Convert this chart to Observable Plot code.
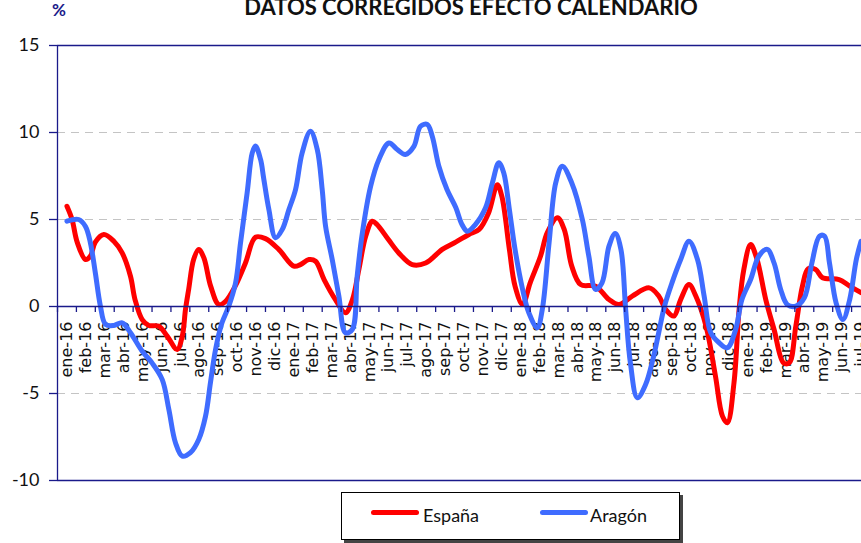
<!DOCTYPE html>
<html><head><meta charset="utf-8">
<script src="https://cdn.jsdelivr.net/npm/d3@7"></script>
<script src="https://cdn.jsdelivr.net/npm/@observablehq/plot@0.6"></script>
<style>
html,body{margin:0;padding:0;background:#fff;overflow:hidden;width:861px;height:543px;}
#wrap{position:relative;width:861px;height:543px;overflow:hidden;background:#fff;}
#chart{position:absolute;left:0;top:0;width:861px;height:543px;overflow:hidden;}
#chart svg{overflow:hidden;}
#title{position:absolute;left:0;width:942px;text-align:center;top:-6px;font-family:Lato;font-weight:bold;font-size:22px;line-height:1.2;color:#111;white-space:nowrap;}
#pct{position:absolute;left:52px;top:0px;font-family:Lato;font-weight:bold;font-size:17px;line-height:1.2;color:#1a1a8a;}
#legend{position:absolute;left:341px;top:492px;width:337px;height:46px;border:1px solid #000;box-shadow:3px 3px 0 #444;background:#fff;font-family:Lato;font-size:18px;}
.sw{position:absolute;height:5px;border-radius:3px;top:17px;}
.lb{position:absolute;top:12px;line-height:1.2;color:#111;white-space:nowrap;}
</style>
</head><body>
<div id="wrap">
  <div id="chart"></div>
  <div id="title"></div>
  <div id="pct">%</div>
  <div id="legend"></div>
</div>
<script>
const titleText = "DATOS CORREGIDOS EFECTO CALENDARIO";
const months = ["ene-16","feb-16","mar-16","abr-16","may-16","jun-16","jul-16","ago-16","sep-16","oct-16","nov-16","dic-16",
"ene-17","feb-17","mar-17","abr-17","may-17","jun-17","jul-17","ago-17","sep-17","oct-17","nov-17","dic-17",
"ene-18","feb-18","mar-18","abr-18","may-18","jun-18","jul-18","ago-18","sep-18","oct-18","nov-18","dic-18",
"ene-19","feb-19","mar-19","abr-19","may-19","jun-19","jul-19"];
const yTicks = [15, 10, 5, 0, -5, -10];
const gridTicks = [10, 5, -5];
const seriesNames = ["España", "Aragón"];
const seriesColors = ["#ff0000", "#3f6cff"];

// España: position in months (0 = ene-16) and value (%)
const espT = [0,0.27,0.54,0.98,1.24,1.5,1.95,2.48,2.92,3.36,3.6,3.98,4.33,4.86,5.3,5.83,6.1,6.27,6.44,6.7,6.97,7.24,7.6,8.03,8.39,8.9,9.44,9.97,10.5,11.2,12.0,12.35,12.8,13.15,13.6,14.2,14.73,15.1,15.44,15.8,16.15,16.4,17.0,17.55,18.26,18.97,19.85,20.56,21.26,21.8,22.3,22.76,23.0,23.4,23.7,24.1,24.5,25.05,25.4,25.94,26.3,26.7,27.17,27.96,28.67,29.2,29.9,30.8,31.3,31.67,32.1,32.46,32.9,33.26,33.8,34.3,34.67,34.93,35.28,35.55,35.8,36.16,36.5,36.96,37.4,37.9,38.2,38.55,38.9,39.2,39.6,39.96,40.84,41.4,42.0];
const espV = [5.76,5.0,3.7,2.7,2.9,3.7,4.14,3.75,3.08,1.74,0.4,-0.75,-1.09,-1.13,-1.7,-2.47,-1.7,-0.17,1.0,2.7,3.28,2.8,1.17,0.11,0.3,1.17,2.5,3.98,3.9,3.28,2.32,2.41,2.7,2.6,1.55,0.4,-0.36,0.4,2.13,4.04,4.9,4.71,3.85,3.08,2.41,2.5,3.28,3.7,4.14,4.43,5.38,7.0,6.34,3.28,1.17,0.11,1.36,2.9,4.23,5.1,4.43,2.32,1.26,1.17,0.4,0.11,0.6,1.07,0.6,-0.17,-0.55,0.4,1.26,0.6,-1.13,-4.0,-6.3,-6.68,-4.38,-0.17,2.13,3.56,2.7,0.4,-1.32,-3.24,-3.24,-1.13,1.17,2.16,2.13,1.65,1.55,1.17,0.8];

// Aragón
const araT = [0,0.62,0.98,1.24,1.5,1.77,2.04,2.48,2.92,3.36,3.98,4.5,5.04,5.39,5.74,6.1,6.53,6.97,7.33,7.59,7.86,8.2,8.56,8.92,9.18,9.53,9.8,9.97,10.24,10.4,10.68,11.03,11.39,11.74,12.09,12.44,12.88,13.24,13.5,13.68,14.03,14.38,14.73,15.09,15.35,15.6,16.06,16.5,17.03,17.47,17.9,18.35,18.7,19.06,19.32,19.67,20.1,20.56,20.9,21.17,21.6,22.14,22.5,22.84,23.1,23.4,23.7,24.1,24.43,24.88,25.14,25.5,25.85,26.2,26.7,27.26,27.6,27.96,28.3,28.67,29.0,29.3,29.55,29.8,30.17,30.6,31.0,31.3,31.6,32.0,32.46,32.9,33.35,33.7,34.05,34.5,34.93,35.37,35.7,36.16,36.6,37.04,37.4,37.75,38.1,38.55,39.0,39.4,39.8,40.07,40.33,40.68,41.04,41.4,41.75,42.0];
const araV = [4.9,5.0,4.6,3.66,1.94,0.02,-1.03,-1.09,-0.94,-1.51,-2.57,-3.24,-4.2,-5.92,-7.83,-8.6,-8.4,-7.64,-6.3,-4.38,-2.47,-0.94,0.02,1.36,3.66,6.53,8.83,9.22,8.45,7.4,5.57,3.95,4.43,5.57,6.72,8.83,10.07,9.02,6.72,4.6,2.7,0.6,-1.51,-1.32,1.74,4.04,6.9,8.45,9.4,9.02,8.74,9.2,10.36,10.46,9.79,8.06,6.72,5.7,4.7,4.33,4.71,5.67,7.1,8.26,7.68,5.57,3.28,0.98,-0.36,-1.22,-0.17,3.66,7.1,8.06,7.1,5.0,2.9,0.98,1.36,3.47,4.2,3.28,-0.17,-3.24,-5.25,-4.5,-3.0,-1.5,0.0,1.36,2.7,3.75,2.7,0.6,-1.51,-2.09,-2.37,-1.32,0.4,1.55,2.9,3.28,2.5,0.98,0.11,0.02,0.5,2.5,4.04,4.04,2.5,0.21,-0.75,0.4,2.7,3.75];

const navy = "#1a1a8a";
const espData = espT.map((t, i) => ({t, v: espV[i]}));
const araData = araT.map((t, i) => ({t, v: araV[i]}));
const bounds = d3.range(months.length + 1).map(i => i - 0.5);

const chart = Plot.plot({
  width: 861, height: 543,
  marginTop: 45, marginBottom: 63, marginLeft: 57, marginRight: 0,
  x: {domain: [-0.5, months.length - 0.5], range: [57, 870], axis: null},
  y: {domain: [-10, 15], axis: null},
  style: {background: "transparent"},
  marks: [
    Plot.ruleY(gridTicks, {stroke: "#c4c4c4", strokeWidth: 1, strokeDasharray: "8,6"}),
    Plot.ruleY([15, -10], {stroke: navy, strokeWidth: 1.3}),
    Plot.ruleX([-0.5], {stroke: navy, strokeWidth: 1.3}),
    Plot.ruleY(yTicks, {x1: -0.5, x2: -0.5, insetLeft: -8, stroke: navy, strokeWidth: 1.3}),
    Plot.text(yTicks, {x: -0.5, y: d => d, text: d => String(d), textAnchor: "end", dx: -18, fontSize: 18, fontFamily: "Lato", fill: "#111"}),
    Plot.text(months, {x: (d, i) => i, y: 0, text: d => d, rotate: -90, textAnchor: "end", dy: 15, fontSize: 16, fontFamily: "DejaVu Sans", fill: "#111"}),
    Plot.line(espData, {x: "t", y: "v", stroke: seriesColors[0], strokeWidth: 5, curve: "catmull-rom"}),
    Plot.line(araData, {x: "t", y: "v", stroke: seriesColors[1], strokeWidth: 5, curve: "catmull-rom"}),
    Plot.ruleY([0], {stroke: navy, strokeWidth: 1.3}),
    Plot.ruleX(bounds, {y1: 0, y2: 0, insetBottom: -6, stroke: navy, strokeWidth: 1.3})
  ]
});
document.getElementById("chart").appendChild(chart);
document.getElementById("title").textContent = titleText;

const leg = document.getElementById("legend");
const swLeft = [29, 198], lbLeft = [81, 248];
seriesNames.forEach((name, i) => {
  const sw = document.createElement("div");
  sw.className = "sw";
  sw.style.left = swLeft[i] + "px";
  sw.style.width = "48px";
  sw.style.background = seriesColors[i];
  leg.appendChild(sw);
  const lb = document.createElement("div");
  lb.className = "lb";
  lb.style.left = lbLeft[i] + "px";
  lb.textContent = name;
  leg.appendChild(lb);
});
</script>
</body></html>
